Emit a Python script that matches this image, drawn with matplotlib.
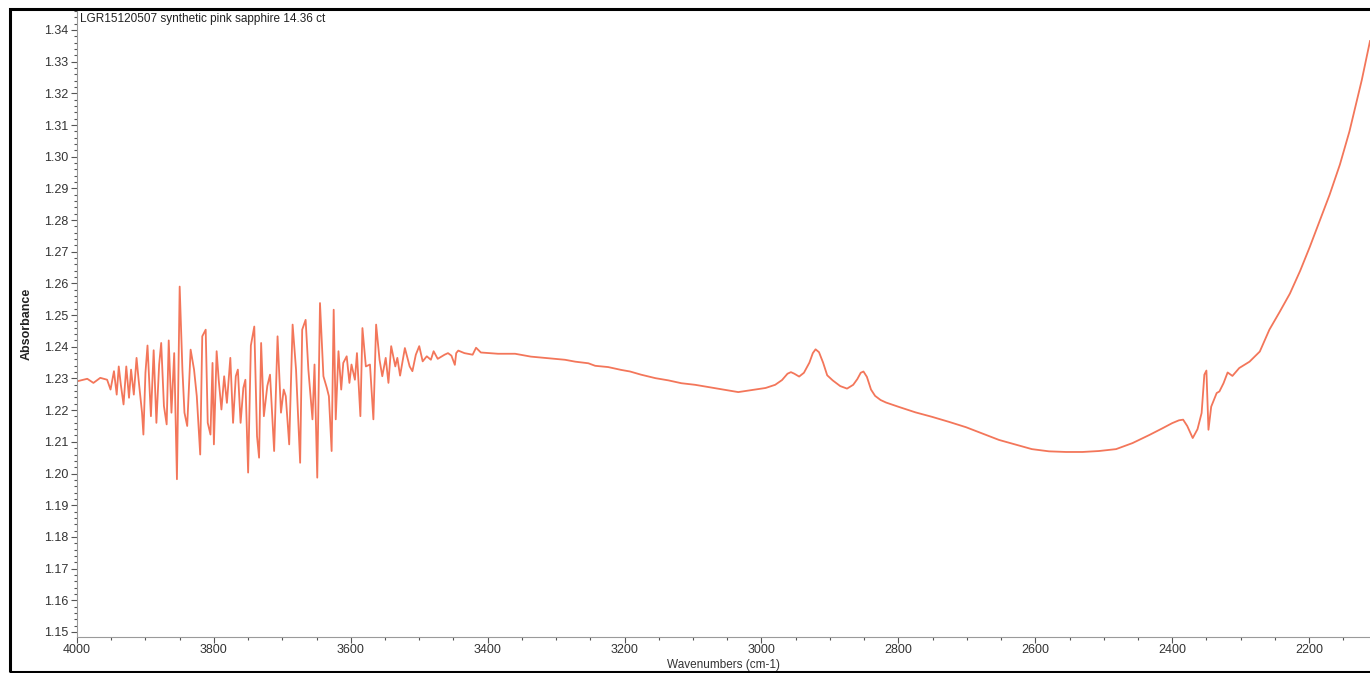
import matplotlib
matplotlib.use("Agg")
import matplotlib.pyplot as plt
from matplotlib.patches import Rectangle
from matplotlib.ticker import MultipleLocator, FormatStrFormatter

plt.rcParams['font.family'] = ['Liberation Sans', 'DejaVu Sans']

title = "LGR15120507 synthetic pink sapphire 14.36 ct"
x_label = "Wavenumbers (cm-1)"
y_label = "Absorbance"

# noisy (water-vapour) region
wn_noise = [4000, 3985, 3976, 3966, 3956, 3951, 3946, 3942, 3939, 3936, 3932, 3928,
            3924, 3921, 3917, 3913, 3910, 3905, 3903, 3900, 3897, 3892, 3888, 3884,
            3880, 3877, 3873, 3869, 3866, 3862, 3858, 3854, 3850, 3846, 3843, 3839,
            3834, 3829, 3825, 3820, 3817, 3812, 3809, 3805, 3802, 3800, 3796, 3793,
            3789, 3785, 3781, 3776, 3772, 3768, 3765, 3761, 3757, 3754, 3750, 3746,
            3741, 3737, 3734, 3731, 3727, 3722, 3718, 3712, 3707, 3702, 3698, 3695,
            3690, 3685, 3680, 3674, 3671, 3666, 3662, 3656, 3653, 3649, 3645, 3640,
            3635, 3632, 3628, 3625, 3622, 3618, 3614, 3611, 3606, 3602, 3599, 3594,
            3591, 3586, 3583, 3578, 3572, 3567, 3563, 3558, 3554, 3549, 3545, 3541,
            3535, 3532, 3528, 3521, 3514, 3510, 3505, 3500, 3495, 3489, 3483, 3479,
            3473, 3463]
ab_noise = [1.2291, 1.2299, 1.2286, 1.2302, 1.2296, 1.2265, 1.2323, 1.2249, 1.2338, 1.2281, 1.2218, 1.2338,
            1.2239, 1.2328, 1.2249, 1.2365, 1.2296, 1.2192, 1.2123, 1.2318, 1.2404, 1.2181, 1.2389, 1.2160,
            1.2344, 1.2412, 1.2213, 1.2155, 1.2420, 1.2192, 1.2380, 1.1982, 1.2590, 1.2328, 1.2192, 1.2150,
            1.2391, 1.2328, 1.2244, 1.2060, 1.2433, 1.2454, 1.2160, 1.2123, 1.2349, 1.2092, 1.2386, 1.2296,
            1.2202, 1.2307, 1.2223, 1.2365, 1.2160, 1.2307, 1.2328, 1.2160, 1.2270, 1.2296, 1.2003, 1.2404,
            1.2464, 1.2118, 1.2050, 1.2412, 1.2181, 1.2276, 1.2312, 1.2071, 1.2433, 1.2192, 1.2265, 1.2244,
            1.2092, 1.2470, 1.2328, 1.2034, 1.2454, 1.2485, 1.2328, 1.2171, 1.2344, 1.1987, 1.2538, 1.2307,
            1.2270, 1.2244, 1.2071, 1.2517, 1.2171, 1.2386, 1.2265, 1.2349, 1.2370, 1.2286, 1.2344, 1.2296,
            1.2380, 1.2181, 1.2459, 1.2338, 1.2344, 1.2171, 1.2470, 1.2359, 1.2307, 1.2365, 1.2286, 1.2402,
            1.2338, 1.2365, 1.2309, 1.2396, 1.2338, 1.2323, 1.2375, 1.2402, 1.2354, 1.2370, 1.2359, 1.2386,
            1.2362, 1.2375]

# smooth part of the spectrum
wn_rest = [3458, 3453, 3448, 3446, 3443, 3434, 3422, 3417, 3410, 3385, 3360, 3337,
           3312, 3287, 3272, 3253, 3243, 3224, 3205, 3192, 3176, 3155, 3136, 3117,
           3097, 3078, 3059, 3034, 3019, 2994, 2980, 2970, 2962, 2957, 2952, 2945,
           2938, 2930, 2925, 2921, 2916, 2910, 2904, 2896, 2885, 2875, 2866, 2860,
           2855, 2851, 2846, 2840, 2834, 2826, 2818, 2799, 2775,
           2751, 2726, 2701, 2678, 2653, 2628, 2605, 2580, 2555, 2531, 2507, 2482,
           2458, 2433, 2414, 2400, 2390, 2384, 2378, 2370, 2363, 2357, 2353, 2350, 2347, 2343,
           2335, 2331, 2325, 2319, 2312, 2302, 2287, 2272, 2258, 2243, 2228, 2213, 2199, 2185,
           2170, 2155, 2141, 2123, 2111]
ab_rest = [1.2380, 1.2372, 1.2343, 1.2380, 1.2388, 1.2380, 1.2375, 1.2397, 1.2382, 1.2378, 1.2378, 1.2369,
           1.2364, 1.2359, 1.2353, 1.2348, 1.2340, 1.2336, 1.2327, 1.2322, 1.2312, 1.2301, 1.2294, 1.2285,
           1.2280, 1.2273, 1.2266, 1.2257, 1.2262, 1.2270, 1.2280, 1.2295, 1.2315, 1.2320, 1.2315, 1.2306,
           1.2318, 1.2350, 1.2380, 1.2392, 1.2383, 1.2350, 1.2310, 1.2294, 1.2276, 1.2268, 1.2280, 1.2298,
           1.2318, 1.2322, 1.2305, 1.2265, 1.2245, 1.2232, 1.2224, 1.2210, 1.2193,
           1.2179, 1.2163, 1.2146, 1.2127, 1.2106, 1.2091, 1.2077, 1.2070, 1.2068, 1.2068, 1.2071, 1.2077,
           1.2096, 1.2122, 1.2143, 1.2159, 1.2168, 1.2170, 1.2150, 1.2112, 1.2140, 1.2191, 1.2312, 1.2325, 1.2138, 1.2211,
           1.2254, 1.2259, 1.2285, 1.2319, 1.2308, 1.2333, 1.2353, 1.2385, 1.2454, 1.2510, 1.2568, 1.2640, 1.2715, 1.2795,
           1.2880, 1.2975, 1.3080, 1.3242, 1.3365]

wn = wn_noise + wn_rest
ab = ab_noise + ab_rest

W, H = 1370, 673
fig = plt.figure(figsize=(W / 100, H / 100), dpi=100)

# outer frame
fig.patches.append(Rectangle((10 / W, 1.5 / H), 1.2, (672 - 9) / H, transform=fig.transFigure,
                             fill=False, edgecolor='black', linewidth=2.2))

ax = fig.add_axes([77 / W, (H - 637) / H, (W - 77) / W, (637 - 10) / H])
ax.plot(wn, ab, color='#f3765a', linewidth=1.3, solid_joinstyle='round')

ax.set_xlim(4000, 2111)
ax.set_ylim(1.1484, 1.3463)

ax.xaxis.set_major_locator(MultipleLocator(200))
ax.xaxis.set_minor_locator(MultipleLocator(50))
ax.yaxis.set_major_locator(MultipleLocator(0.01))
ax.yaxis.set_minor_locator(MultipleLocator(0.002))
ax.yaxis.set_major_formatter(FormatStrFormatter('%.2f'))

for s in ['top', 'right']:
    ax.spines[s].set_visible(False)
for s in ['left', 'bottom']:
    ax.spines[s].set_color('#9a9a9a')
    ax.spines[s].set_linewidth(0.8)

ax.tick_params(axis='both', which='major', length=4, width=0.8, color='#555555',
               labelsize=9, labelcolor='#333333', pad=2)
ax.tick_params(axis='both', which='minor', length=2, width=0.8, color='#555555')
ax.tick_params(axis='x', which='major', pad=1)

ax.set_xlabel(x_label, fontsize=8.5, color='#333333', labelpad=2)
ax.set_ylabel(y_label, fontsize=9, fontweight='bold', color='#222222', labelpad=8)

ax.text(0.002, 0.995, title, transform=ax.transAxes, ha='left', va='top',
        fontsize=8.5, color='#222222')

fig.savefig('out.png', dpi=100)
